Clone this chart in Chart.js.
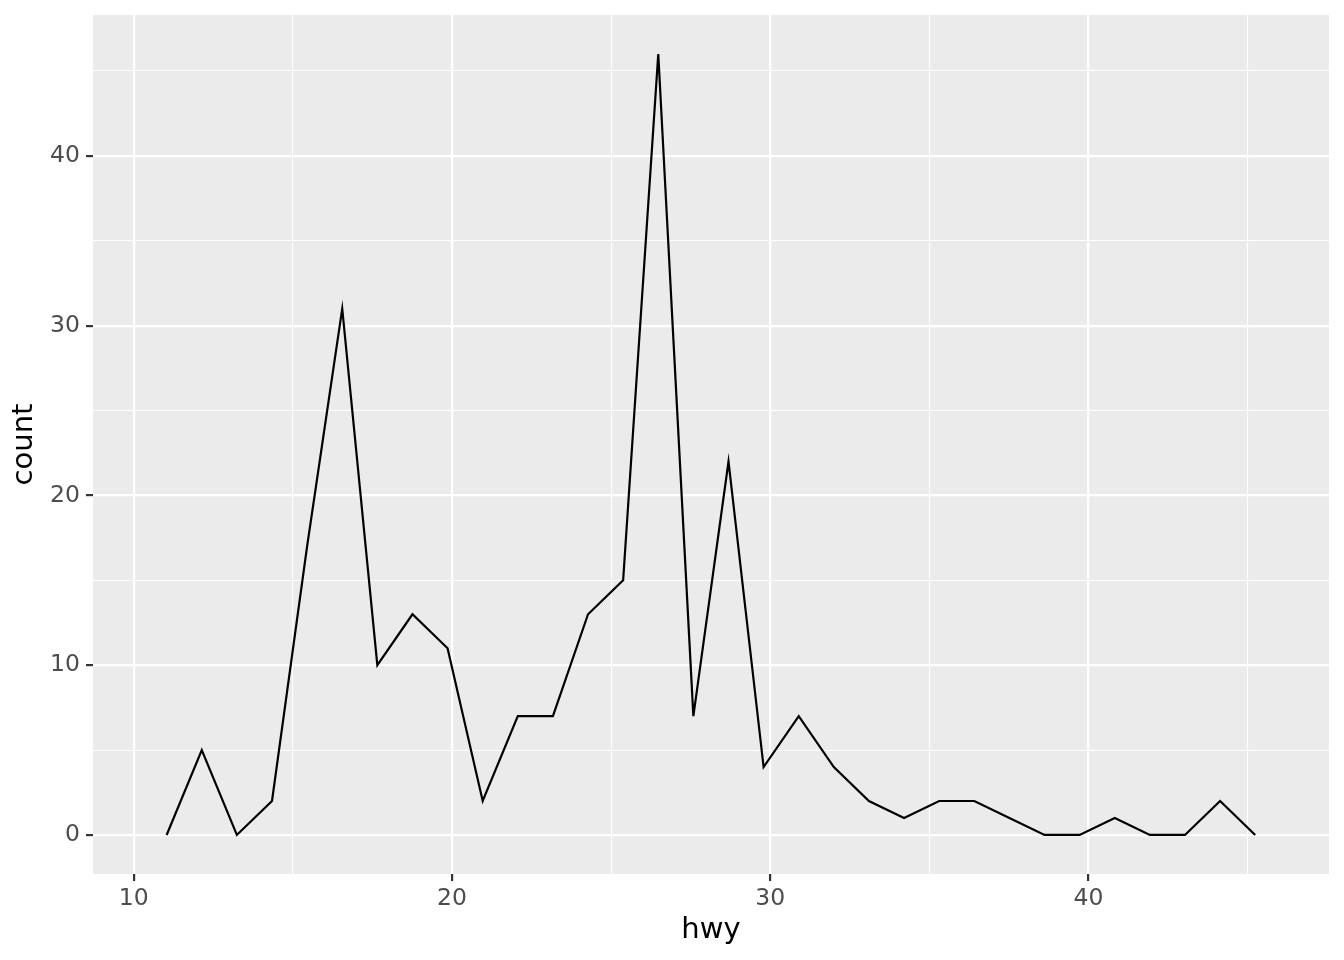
<!DOCTYPE html>
<html>
<head>
<meta charset="utf-8">
<script src="https://cdn.jsdelivr.net/npm/chart.js@4"></script>
<style>
    body { margin: 0; background: #ffffff; }
    canvas { display: block; }
</style>
</head>
<body>
<canvas id="hwy-chart" width="1344" height="960"></canvas>
<script>
// bin centres of the frequency polygon (hwy) and the counts per bin
const hwyMids = [11.034, 12.138, 13.241, 14.345, 15.448, 16.552, 17.655, 18.759, 19.862, 20.966,
    22.069, 23.172, 24.276, 25.379, 26.483, 27.586, 28.690, 29.793, 30.897, 32.000,
    33.103, 34.207, 35.310, 36.414, 37.517, 38.621, 39.724, 40.828, 41.931, 43.034,
    44.138, 45.241];
const hwyCounts = [0, 5, 0, 2, 17, 31, 10, 13, 11, 2, 7, 7, 13, 15, 46, 7, 22, 4, 7, 4,
    2, 1, 2, 2, 1, 0, 0, 1, 0, 0, 2, 0];

const xTicks = [10, 15, 20, 25, 30, 35, 40, 45];
const yTicks = [0, 5, 10, 15, 20, 25, 30, 35, 40, 45];

const isMajor = (v) => v % 10 === 0;

const panelBackground = {
    id: 'panelBackground',
    beforeDraw(chart) {
        const {ctx, chartArea} = chart;
        ctx.save();
        ctx.fillStyle = '#EBEBEB';
        ctx.fillRect(chartArea.left, chartArea.top, chartArea.right - chartArea.left, chartArea.bottom - chartArea.top);
        ctx.restore();
    }
};

const gridStyle = {
    color: '#FFFFFF',
    lineWidth: (c) => isMajor(c.tick.value) ? 2.2 : 1.1,
    drawTicks: true,
    tickLength: 7,
    tickWidth: 2.2,
    tickColor: (c) => isMajor(c.tick.value) ? '#333333' : 'rgba(0,0,0,0)',
};

const tickStyle = {
    color: '#4D4D4D',
    font: {family: 'DejaVu Sans', size: 23.5},
    autoSkip: false,
    maxRotation: 0,
    callback: (v) => isMajor(v) ? String(v) : '',
};

const drawHwyChart = () => {
    return new Chart(document.getElementById('hwy-chart').getContext('2d'), {
        type: 'line',
        data: {
            datasets: [{
                label: 'count',
                data: hwyMids.map((x, i) => ({x: x, y: hwyCounts[i]})),
                borderColor: '#000000',
                borderWidth: 2.2,
                pointRadius: 0,
                fill: false,
                tension: 0,
            }]
        },
        options: {
            responsive: false,
            animation: false,
            layout: {padding: {top: 15, right: 15, left: 0, bottom: 0}},
            plugins: {legend: {display: false}, tooltip: {enabled: false}},
            scales: {
                x: {
                    type: 'linear',
                    min: 8.72,
                    max: 47.56,
                    afterBuildTicks: (scale) => { scale.ticks = xTicks.map(v => ({value: v})); },
                    afterFit: (scale) => {
                        scale.height = 86;
                        scale.paddingLeft = 0;
                        scale.paddingRight = 0;
                    },
                    grid: gridStyle,
                    border: {display: false},
                    ticks: Object.assign({}, tickStyle, {padding: 4}),
                    title: {
                        display: true,
                        text: 'hwy',
                        color: '#000000',
                        font: {family: 'DejaVu Sans', size: 29},
                        padding: {top: 0, bottom: 12},
                    },
                },
                y: {
                    type: 'linear',
                    min: -2.3,
                    max: 48.3,
                    afterBuildTicks: (scale) => { scale.ticks = yTicks.map(v => ({value: v})); },
                    afterFit: (scale) => {
                        scale.width = 93;
                        scale.paddingTop = 0;
                        scale.paddingBottom = 0;
                    },
                    grid: gridStyle,
                    border: {display: false},
                    ticks: Object.assign({}, tickStyle, {padding: 6}),
                    title: {
                        display: true,
                        text: 'count',
                        color: '#000000',
                        font: {family: 'DejaVu Sans', size: 29},
                        padding: {top: 7, bottom: 0},
                    },
                },
            },
        },
        plugins: [panelBackground],
    });
};

drawHwyChart();
</script>
</body>
</html>
